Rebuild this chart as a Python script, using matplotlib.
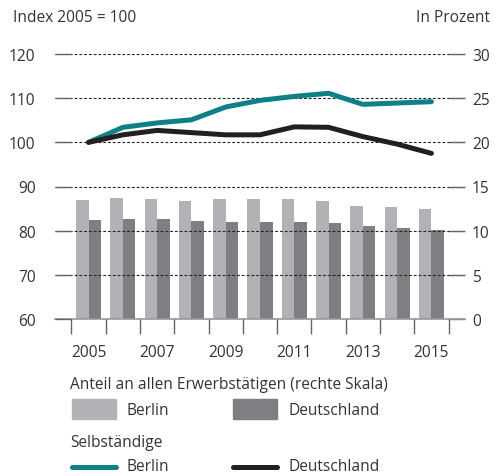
import matplotlib
matplotlib.use("Agg")
import matplotlib.pyplot as plt
from matplotlib.lines import Line2D
from matplotlib.patches import Rectangle
import numpy as np

years = [2005, 2006, 2007, 2008, 2009, 2010, 2011, 2012, 2013, 2014, 2015]
anteil_berlin = [13.5, 13.7, 13.6, 13.35, 13.6, 13.6, 13.6, 13.35, 12.8, 12.65, 12.45]
anteil_deutschland = [11.2, 11.3, 11.3, 11.1, 10.95, 10.95, 10.95, 10.85, 10.5, 10.3, 10.05]
selb_berlin = [100, 103.4, 104.4, 105.1, 108.0, 109.5, 110.4, 111.1, 108.6, 108.9, 109.2]
selb_deutschland = [100, 101.7, 102.7, 102.2, 101.7, 101.7, 103.5, 103.4, 101.3, 99.6, 97.5]
xtick_labels = ["2005", "2007", "2009", "2011", "2013", "2015"]

plt.rcParams['font.family'] = ['Open Sans', 'DejaVu Sans']
FS = 11.2
TXT = '#333333'
TEAL = '#0f7f88'
BLACK = '#231f20'
LGRAY = '#b1b2b5'
DGRAY = '#7e7f83'
TICK = '#666666'

fig = plt.figure(figsize=(4.99, 4.77), dpi=100)
ax = fig.add_axes([55/499, 1-320/477, 410/499, 265/477])
axr = ax.twinx()
ax.set_zorder(axr.get_zorder() + 1)
ax.patch.set_visible(False)

x = np.array(years, dtype=float)
w = 0.365
axr.bar(x - w/2, anteil_berlin, width=w, color=LGRAY, zorder=2)
axr.bar(x + w/2, anteil_deutschland, width=w, color=DGRAY, zorder=2)
axr.set_ylim(0, 30)
axr.set_yticks([0, 5, 10, 15, 20, 25, 30])
axr.grid(axis='y', linestyle=(0, (2.5, 1.8)), color='#222222', lw=0.8, zorder=3)
axr.set_axisbelow(False)

ax.plot(x, selb_berlin, color=TEAL, lw=3.6, solid_capstyle='round', solid_joinstyle='round')
ax.plot(x, selb_deutschland, color=BLACK, lw=3.6, solid_capstyle='round', solid_joinstyle='round')
ax.set_ylim(60, 120)
ax.set_yticks([60, 70, 80, 90, 100, 110, 120])
ax.set_xlim(2004.02, 2015.98)

for a in (ax, axr):
    for s in ('left', 'right', 'top', 'bottom'):
        a.spines[s].set_visible(False)

ax.tick_params(axis='y', direction='in', length=11.5, width=1, color=TICK,
               labelsize=FS, labelcolor=TXT, pad=14)
axr.tick_params(axis='y', direction='in', length=11.5, width=1, color=TICK,
                labelsize=FS, labelcolor=TXT, pad=5)

ax.set_xticks(years[::2])
ax.set_xticklabels(xtick_labels)
ax.set_xticks(np.arange(2004.5, 2016, 1.0), minor=True)
ax.tick_params(axis='x', which='major', length=0, labelsize=FS, labelcolor=TXT, pad=18)
ax.tick_params(axis='x', which='minor', direction='out', length=11, width=1, color=TICK)
axr.tick_params(axis='x', length=0)
ax.axhline(60, color='#999999', lw=1.2, zorder=1, clip_on=False)

fig.text(13/499, 1-18/477, "Index 2005 = 100", fontsize=FS, color=TXT, va='center', ha='left')
fig.text(490/499, 1-18/477, "In Prozent", fontsize=FS, color=TXT, va='center', ha='right')

fig.text(70/499, 1-385/477, "Anteil an allen Erwerbstätigen (rechte Skala)", fontsize=FS, color=TXT, va='center', ha='left')
fig.patches.append(Rectangle((72/499, 1-420/477), 44/499, 20/477, transform=fig.transFigure, color=LGRAY))
fig.text(127/499, 1-411/477, "Berlin", fontsize=FS, color=TXT, va='center', ha='left')
fig.patches.append(Rectangle((233/499, 1-420/477), 44/499, 20/477, transform=fig.transFigure, color=DGRAY))
fig.text(288/499, 1-411/477, "Deutschland", fontsize=FS, color=TXT, va='center', ha='left')

fig.text(70/499, 1-443/477, "Selbständige", fontsize=FS, color=TXT, va='center', ha='left')
fig.lines.append(Line2D([72/499, 116/499], [1-468/477]*2, transform=fig.transFigure, color=TEAL, lw=3.6, solid_capstyle='round'))
fig.text(127/499, 1-467/477, "Berlin", fontsize=FS, color=TXT, va='center', ha='left')
fig.lines.append(Line2D([233/499, 277/499], [1-468/477]*2, transform=fig.transFigure, color=BLACK, lw=3.6, solid_capstyle='round'))
fig.text(288/499, 1-467/477, "Deutschland", fontsize=FS, color=TXT, va='center', ha='left')

fig.savefig("out.png", dpi=100)
